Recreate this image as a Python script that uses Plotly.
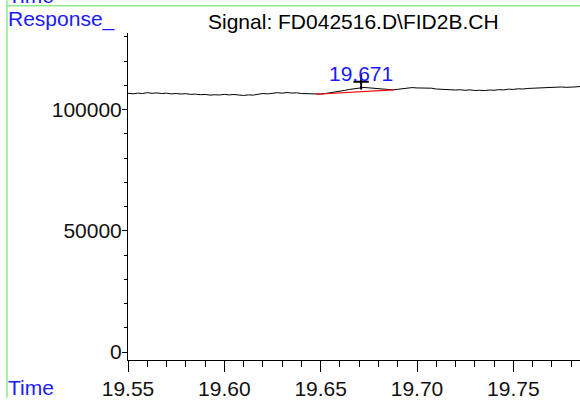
import plotly.graph_objects as go

# ---- data ----
time_min = [
    19.5500, 19.5525, 19.5550, 19.5575, 19.5600, 19.5625, 19.5650, 19.5675, 19.5700, 19.5725,
    19.5750, 19.5775, 19.5800, 19.5825, 19.5850, 19.5875, 19.5900, 19.5925, 19.5950, 19.5975,
    19.6000, 19.6025, 19.6050, 19.6075, 19.6100, 19.6125, 19.6150, 19.6175, 19.6200, 19.6225,
    19.6250, 19.6275, 19.6300, 19.6325, 19.6350, 19.6375, 19.6400, 19.6425, 19.6450, 19.6475,
    19.6500, 19.6525, 19.6550, 19.6575, 19.6600, 19.6625, 19.6650, 19.6675, 19.6700, 19.6725,
    19.6750, 19.6775, 19.6800, 19.6825, 19.6850, 19.6875, 19.6900, 19.6925, 19.6950, 19.6975,
    19.7000, 19.7025, 19.7050, 19.7075, 19.7100, 19.7125, 19.7150, 19.7175, 19.7200, 19.7225,
    19.7250, 19.7275, 19.7300, 19.7325, 19.7350, 19.7375, 19.7400, 19.7425, 19.7450, 19.7475,
    19.7500, 19.7525, 19.7550, 19.7575, 19.7600, 19.7625, 19.7650, 19.7675, 19.7700, 19.7725,
    19.7750, 19.7775, 19.7800, 19.7825, 19.7850,
]
response = [
    106700, 106500, 106750, 106600, 106950, 106700, 106850, 106600, 106750, 106450,
    106600, 106400, 106550, 106250, 106350, 106100, 106250, 105950, 106100, 106000,
    106250, 106050, 106200, 105900, 105800, 106050, 105950, 106300, 106600, 106450,
    106800, 106950, 106750, 107000, 106800, 106900, 106600, 106500, 106300, 106250,
    106400, 106600, 106850, 107150, 107500, 107900, 108300, 108650, 108900, 109100,
    108950, 108750, 108600, 108400, 108200, 108100, 108350, 108650, 108800, 109050,
    108900, 108950, 108700, 108800, 108450, 108300, 108150, 108300, 108050, 108150,
    107950, 108100, 107850, 107950, 107800, 108050, 107950, 108200, 108100, 108400,
    108300, 108550, 108450, 108700, 108800, 108650, 109000, 109150, 108950, 109200,
    109300, 109150, 109400, 109350, 109550,
]
baseline_time = [19.6476, 19.6876]
baseline_value = [106300, 108100]
peak_time = [19.671]
peak_marker_value = [111450]
peak_label = "19.671"

x_range = [19.55, 19.7846]
y_range = [-3280, 131560]
x_tick0, x_dtick, x_minor = 19.55, 0.05, 0.01
y_dtick, y_minor = 50000, 10000

title_text = "Signal: FD042516.D\\FID2B.CH"
y_label = "Response_"
x_label = "Time"

FONT = "Liberation Sans, Arial, sans-serif"
FS = 21
W, H = 580, 400
L, R, T, B = 128, 0, 33, 38
GREEN = "#8cec8c"


def px_x(p):
    return (p - L) / (W - L - R)


def px_y(p):
    return (H - B - p) / (H - T - B)


fig = go.Figure()
fig.add_trace(go.Scatter(x=time_min, y=response, mode="lines",
                         line=dict(color="black", width=1), hoverinfo="skip"))
fig.add_trace(go.Scatter(x=baseline_time, y=baseline_value, mode="lines",
                         line=dict(color="#ff0000", width=1.2), hoverinfo="skip"))
fig.add_trace(go.Scatter(x=peak_time, y=peak_marker_value, mode="markers",
                         marker=dict(symbol="cross-thin", size=11,
                                     line=dict(color="black", width=2)),
                         hoverinfo="skip"))

fig.add_annotation(x=peak_time[0], y=peak_marker_value[0], xref="x", yref="y",
                   text=peak_label, showarrow=False, yshift=8, yanchor="middle",
                   font=dict(family=FONT, size=FS, color="#1a1aff"))

# texts around the frame
fig.add_annotation(x=px_x(353), y=px_y(21), xref="paper", yref="paper",
                   text=title_text, showarrow=False, xanchor="center", yanchor="middle",
                   font=dict(family=FONT, size=FS, color="black"))
fig.add_annotation(x=px_x(6), y=px_y(18.5), xref="paper", yref="paper",
                   text=y_label, showarrow=False, xanchor="left", yanchor="middle",
                   font=dict(family=FONT, size=FS, color="#1a1aff"))
fig.add_annotation(x=px_x(6), y=px_y(-4.5), xref="paper", yref="paper",
                   text=x_label, showarrow=False, xanchor="left", yanchor="middle",
                   font=dict(family=FONT, size=FS, color="#1a1aff"))
fig.add_annotation(x=px_x(6), y=px_y(389.5), xref="paper", yref="paper",
                   text=x_label, showarrow=False, xanchor="left", yanchor="middle",
                   font=dict(family=FONT, size=FS, color="#1a1aff"))

# green frame lines
fig.add_shape(type="line", xref="paper", yref="paper",
              x0=px_x(7), x1=px_x(7), y0=px_y(0), y1=px_y(400),
              line=dict(color=GREEN, width=1.5))
fig.add_shape(type="line", xref="paper", yref="paper",
              x0=px_x(7), x1=px_x(580), y0=px_y(5.5), y1=px_y(5.5),
              line=dict(color=GREEN, width=1.5))

fig.update_layout(
    width=W, height=H, margin=dict(l=L, r=R, t=T, b=B),
    plot_bgcolor="white", paper_bgcolor="white", showlegend=False,
    font=dict(family=FONT, size=FS, color="black"),
    xaxis=dict(range=x_range, tick0=x_tick0, dtick=x_dtick, tickformat=".2f",
               ticks="outside", ticklen=11, tickwidth=1, tickcolor="black",
               showline=True, linecolor="black", linewidth=1,
               showgrid=False, zeroline=False, ticklabelstandoff=-1,
               tickfont=dict(family=FONT, size=FS, color="#111"),
               minor=dict(dtick=x_minor, ticks="outside", ticklen=6,
                          tickcolor="black", showgrid=False)),
    yaxis=dict(range=y_range, tick0=0, dtick=y_dtick, tickformat="d",
               ticks="outside", ticklen=5, tickwidth=1, tickcolor="black",
               showline=True, linecolor="black", linewidth=1,
               showgrid=False, zeroline=False, ticklabelstandoff=-4,
               tickfont=dict(family=FONT, size=FS, color="#111"),
               minor=dict(dtick=y_minor, ticks="outside", ticklen=3,
                          tickcolor="black", showgrid=False)),
)

fig.write_html("out.html", config=dict(displayModeBar=False),
               post_script="document.body.style.margin='0px';")
